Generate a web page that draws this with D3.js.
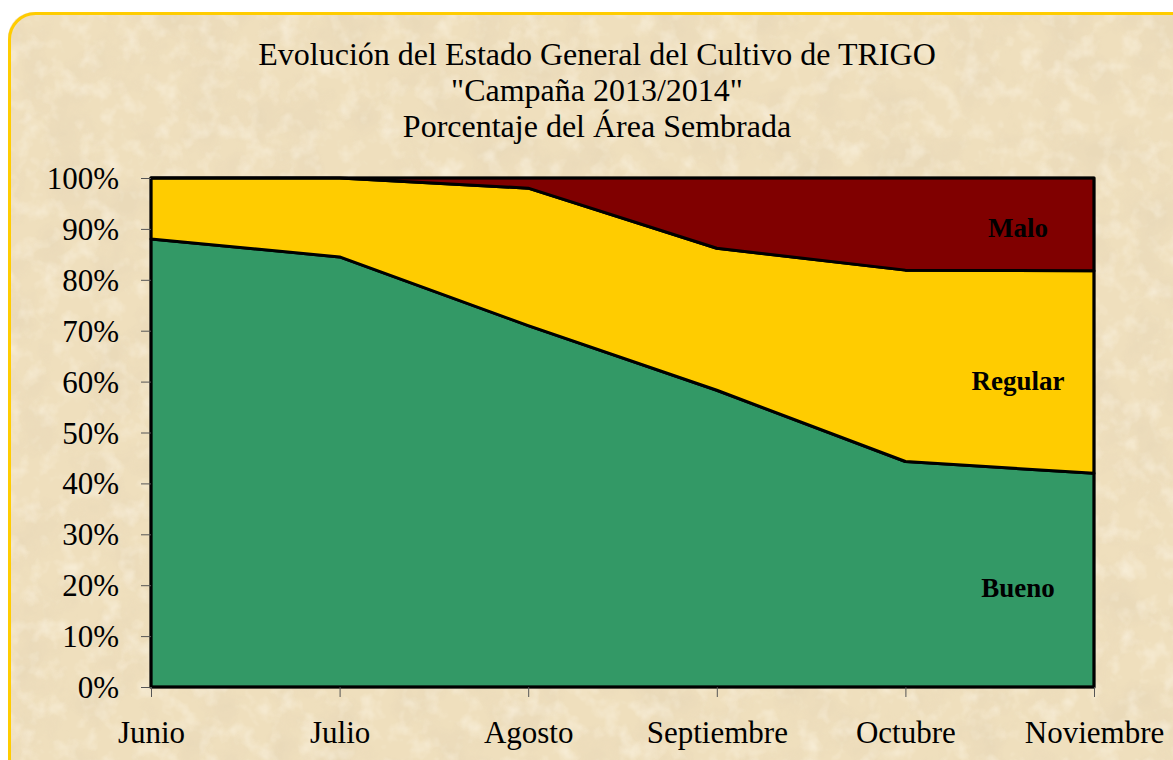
<!DOCTYPE html>
<html>
<head>
<meta charset="utf-8">
<script src="https://cdn.jsdelivr.net/npm/d3@7"></script>
<style>
  body { margin: 0; background: #fff; }
  svg { display: block; }
</style>
</head>
<body>
<div id="chart"></div>
<script>
// data (percent of sown area)
var months = ["Junio", "Julio", "Agosto", "Septiembre", "Octubre", "Noviembre"];
var bueno = [88, 84.5, 71, 58.3, 44.3, 42];
var regular = [12, 15.5, 27, 27.9, 37.6, 39.8];
var malo = [0, 0, 2, 13.8, 18.1, 18.2];
var yTicks = [0, 10, 20, 30, 40, 50, 60, 70, 80, 90, 100];
var titleLines = ["Evolución del Estado General del Cultivo de TRIGO", "\"Campaña 2013/2014\"", "Porcentaje del Área Sembrada"];

var width = 1173, height = 760;
var plotLeft = 151, plotRight = 1094, plotTop = 178, plotBottom = 687;
var serif = "'Liberation Serif', 'Times New Roman', serif";

var rows = months.map(function(m, i) {
  return {month: m, Bueno: bueno[i], Regular: regular[i], Malo: malo[i]};
});
var keys = ["Bueno", "Regular", "Malo"];
var colors = {Bueno: "#339966", Regular: "#ffcc00", Malo: "#800000"};

var svg = d3.select("#chart").append("svg")
  .attr("width", width)
  .attr("height", height);

// parchment texture
var defs = svg.append("defs");
var f = defs.append("filter").attr("id", "paper")
  .attr("x", 0).attr("y", 0).attr("width", "100%").attr("height", "100%");
f.append("feTurbulence").attr("type", "fractalNoise")
  .attr("baseFrequency", "0.022").attr("numOctaves", 5).attr("seed", 7).attr("result", "noise");
f.append("feColorMatrix").attr("in", "noise").attr("type", "matrix")
  .attr("values", "0 0 0 0 0.80  0 0 0 0 0.68  0 0 0 0 0.48  0 0 0 -2.6 1.55")
  .attr("result", "tint");
f.append("feComposite").attr("in", "tint").attr("in2", "SourceGraphic").attr("operator", "in");

var light = defs.append("filter").attr("id", "paperLight")
  .attr("x", 0).attr("y", 0).attr("width", "100%").attr("height", "100%");
light.append("feTurbulence").attr("type", "fractalNoise")
  .attr("baseFrequency", "0.05").attr("numOctaves", 3).attr("seed", 3).attr("result", "noise");
light.append("feColorMatrix").attr("in", "noise").attr("type", "matrix")
  .attr("values", "0 0 0 0 1  0 0 0 0 0.96  0 0 0 0 0.86  0 0 0 2.2 -1.05")
  .attr("result", "tint");
light.append("feComposite").attr("in", "tint").attr("in2", "SourceGraphic").attr("operator", "in");

var bx = 8, by = 12, bw = width + 30, bh = height + 30;
svg.append("rect")
  .attr("x", bx).attr("y", by).attr("width", bw).attr("height", bh)
  .attr("rx", 26).attr("fill", "#efdfbd");
svg.append("rect")
  .attr("x", bx).attr("y", by).attr("width", bw).attr("height", bh)
  .attr("rx", 26).attr("fill", "#efdfbd")
  .attr("filter", "url(#paper)").attr("opacity", 0.6);
svg.append("rect")
  .attr("x", bx).attr("y", by).attr("width", bw).attr("height", bh)
  .attr("rx", 26).attr("fill", "#efdfbd")
  .attr("filter", "url(#paperLight)").attr("opacity", 0.5);
svg.append("rect")
  .attr("x", bx + 1.5).attr("y", by + 1.5).attr("width", bw).attr("height", bh)
  .attr("rx", 26).attr("fill", "none")
  .attr("stroke", "#ffcc00").attr("stroke-width", 3);

var x = d3.scalePoint().domain(months).range([plotLeft, plotRight]);
var y = d3.scaleLinear().domain([0, 100]).range([plotBottom, plotTop]);

var series = d3.stack().keys(keys)(rows);

var area = d3.area()
  .x(function(d) { return x(d.data.month); })
  .y0(function(d) { return y(d[0]); })
  .y1(function(d) { return y(d[1]); });

svg.selectAll(".layer")
  .data(series).enter()
  .append("path")
  .attr("class", "layer")
  .attr("d", area)
  .attr("fill", function(d) { return colors[d.key]; })
  .attr("stroke", "#000")
  .attr("stroke-width", 3)
  .attr("stroke-linejoin", "round");

// plot frame
svg.append("rect")
  .attr("x", plotLeft).attr("y", plotTop)
  .attr("width", plotRight - plotLeft).attr("height", plotBottom - plotTop)
  .attr("fill", "none").attr("stroke", "#000").attr("stroke-width", 2.5);

// axes
var yAxis = d3.axisLeft(y).tickValues(yTicks)
  .tickFormat(function(d) { return d + "%"; })
  .tickSizeInner(10).tickSizeOuter(0).tickPadding(22);
var gy = svg.append("g").attr("transform", "translate(" + plotLeft + ",0)").call(yAxis);

var xAxis = d3.axisBottom(x).tickSizeInner(10).tickSizeOuter(0).tickPadding(24);
var gx = svg.append("g").attr("transform", "translate(0," + plotBottom + ")").call(xAxis);

[gy, gx].forEach(function(g) {
  g.select(".domain").remove();
  g.selectAll(".tick line").attr("stroke", "#555").attr("stroke-width", 1);
  g.selectAll("text")
    .attr("fill", "#000")
    .style("font-family", serif)
    .style("font-size", "31px");
});
gy.selectAll("text").attr("dy", "0.34em");
gx.selectAll("text").attr("dy", "0.71em");

// title
svg.append("g").selectAll("text")
  .data(titleLines).enter()
  .append("text")
  .attr("x", 597)
  .attr("y", function(d, i) { return 65 + i * 36; })
  .attr("text-anchor", "middle")
  .style("font-family", serif)
  .style("font-size", "32px")
  .text(function(d) { return d; });

// series labels in the last column
var labelPos = {Bueno: 19.5, Regular: 60.3, Malo: 90.2};
svg.selectAll(".series-label")
  .data(keys).enter()
  .append("text")
  .attr("class", "series-label")
  .attr("x", 1018)
  .attr("y", function(d) { return y(labelPos[d]); })
  .attr("dy", "0.35em")
  .attr("text-anchor", "middle")
  .style("font-family", serif)
  .style("font-size", "27px")
  .style("font-weight", "bold")
  .text(function(d) { return d; });
</script>
</body>
</html>
